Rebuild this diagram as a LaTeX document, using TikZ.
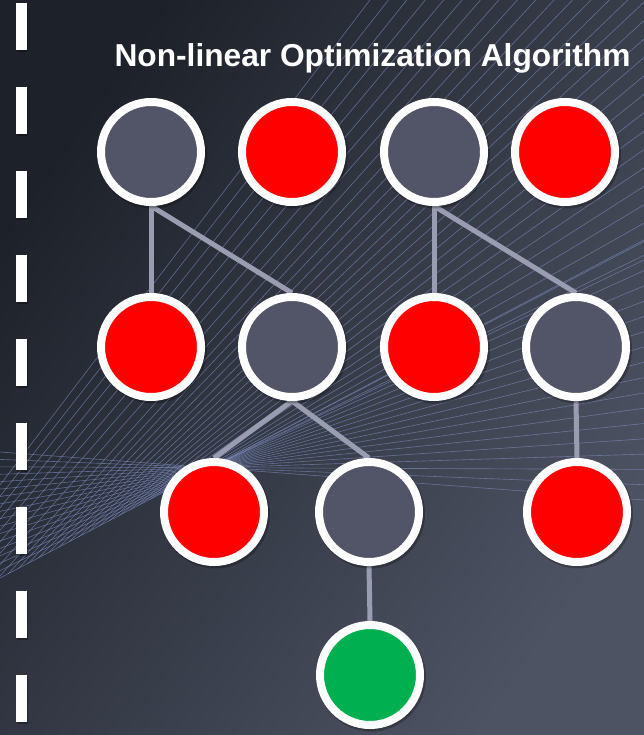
\documentclass[tikz,border=0pt]{standalone}
\usepackage{fontspec}
\setmainfont{Liberation Sans}
\definecolor{bgdark}{HTML}{1D2129}
\definecolor{bgmid}{HTML}{2E3340}
\definecolor{bglight}{HTML}{4E5364}
\definecolor{nodegray}{HTML}{525568}
\definecolor{nodered}{HTML}{FF0000}
\definecolor{nodegreen}{HTML}{00B050}
\definecolor{linkgray}{HTML}{9A9DB1}
\definecolor{stringblue}{HTML}{7D8CC0}
\pgfdeclarelayer{back}
\pgfdeclarelayer{links}
\pgfsetlayers{back,links,main}
\begin{document}
\begin{tikzpicture}[x=1pt,y=-1pt,
  state/.style={circle, draw=white, line width=8pt, minimum size=100pt, inner sep=0pt,
    preaction={fill=black, draw=black, opacity=0.25, line width=9pt,
      transform canvas={shift={(1.5pt,-2pt)}}}},
  idle/.style={state, fill=nodegray},
  fail/.style={state, fill=nodered},
  goal/.style={state, fill=nodegreen},
  link/.style={draw=linkgray, line width=5pt},
  strand/.style={draw=stringblue, draw opacity=0.65, line width=0.6pt},
  dashbar/.style={line width=11pt, dash pattern=on 47.5pt off 36.5pt},
]
\path[use as bounding box] (0,0) rectangle (644,735);

% backdrop: diagonal gradient and string-art fan
\begin{pgfonlayer}{back}
  \shade[top color=bgdark, middle color=bgmid, bottom color=bglight, shading angle=55]
    (0,0) rectangle (644,735);
  % near-horizontal pencil of strands
  \foreach \i in {0,...,17}{
    \pgfmathsetmacro{\t}{\i/17}
    \draw[strand] (0,{452+126*\t}) -- (644,{500-260*\t});
  }
  % steep strands rising to the top-right corner
  \foreach \i in {0,...,29}{
    \pgfmathsetmacro{\t}{\i/29}
    \pgfmathsetmacro{\d}{330*\t}
    \pgfmathsetmacro{\u}{max(0,(\d-93)/237)}
    \pgfmathsetmacro{\px}{210*\u}
    \pgfmathsetmacro{\py}{\d<93 ? 485+\d : 578-110*\u}
    \pgfmathsetmacro{\e}{534*\t}
    \pgfmathsetmacro{\qx}{min(370+\e,644)}
    \pgfmathsetmacro{\qy}{max(0,\e-274)}
    \draw[strand] (\px,\py) -- (\qx,\qy);
  }
\end{pgfonlayer}

% dashed separator on the left
\draw[dashbar, black, opacity=0.3, transform canvas={shift={(1.5pt,-2pt)}}] (21,2.7) -- (21,735);
\draw[dashbar, white] (21,2.7) -- (21,735);

% title
\node[text=white, font=\bfseries\fontsize{31.7}{38}\selectfont, anchor=base]
  (title) at (372.5,67) {Non-linear Optimization Algorithm};

% search tree
\node[idle] (a1) at (151,152) {};
\node[fail] (a2) at (292,152) {};
\node[idle] (a3) at (434,152) {};
\node[fail] (a4) at (565,152) {};
\node[fail] (b1) at (151,347) {};
\node[idle] (b2) at (292,347) {};
\node[fail] (b3) at (434,347) {};
\node[idle] (b4) at (576,347) {};
\node[fail] (c1) at (214,512) {};
\node[idle] (c2) at (369,512) {};
\node[fail] (c3) at (577,512) {};
\node[goal] (d1) at (370,675) {};

\begin{pgfonlayer}{links}
  \draw[link] (a1.south) -- (b1.north);
  \draw[link] (a1.south) -- (b2.north);
  \draw[link] (a3.south) -- (b3.north);
  \draw[link] (a3.south) -- (b4.north);
  \draw[link] (b2.south) -- (c1.north);
  \draw[link] (b2.south) -- (c2.north);
  \draw[link] (b4.south) -- (c3.north);
  \draw[link] (c2.south) -- (d1.north);
\end{pgfonlayer}
\end{tikzpicture}
\end{document}
